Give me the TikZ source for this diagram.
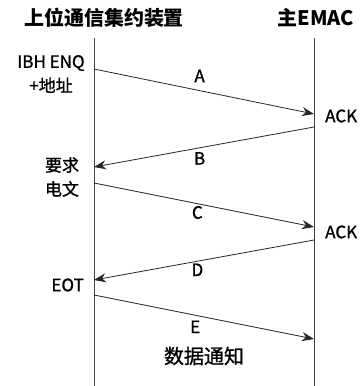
\documentclass[tikz,border=0pt]{standalone}
\usepackage{fontspec}
\setmainfont{Noto Sans CJK SC}
\newfontfamily\medfont[FakeBold=1.2]{Noto Sans CJK SC}
\usetikzlibrary{
  arrows.meta,
  positioning
}
\tikzset{
  >={Stealth[length=12pt,width=9pt]},
  lifeline/.style={draw=black!75, line width=0.7pt},
  msg/.style={->, draw=black!85, line width=0.8pt},
  head/.style={font=\fontsize{20}{22}\selectfont\bfseries, inner sep=0pt},
  tag/.style={font=\fontsize{17}{24}\selectfont\medfont, inner sep=0pt, align=center},
  letter/.style={font=\fontsize{17}{19}\selectfont\medfont, inner sep=0pt}
}

\begin{document}
\begin{tikzpicture}[x=1pt, y=-1pt]
  \useasboundingbox (0,0) rectangle (363,386);
  % heads
  \node[head] (dev) at (104,18) {上位通信集约装置};
  \node[head] (emac) at (316,18) {主EMAC};
  % lifelines
  \coordinate (devtop) at (94,38);
  \coordinate (devbot) at (94,386);
  \coordinate (emactop) at (314,38);
  \coordinate (emacbot) at (314,386);
  \draw[lifeline] (devtop) -- (devbot);
  \draw[lifeline] (emactop) -- (emacbot);
  % message ends
  \coordinate (l1) at (94,69);
  \coordinate (r1) at (314,114);
  \coordinate (r2) at (314,127);
  \coordinate (l2) at (94,167);
  \coordinate (l3) at (94,183);
  \coordinate (r3) at (314,227);
  \coordinate (r4) at (314,240);
  \coordinate (l4) at (94,280);
  \coordinate (l5) at (94,295);
  \coordinate (r5) at (314,339);
  % side texts
  \node[tag] (enq) at (51,74) {IBH ENQ\\+地址};
  \node[tag] (req) at (62,177) {要求\\电文};
  \node[tag, anchor=east] (eot) at (84,285) {EOT};
  \node[tag, anchor=west] (ack1) at (325,116) {ACK};
  \node[tag, anchor=west] (ack2) at (325,232) {ACK};
  % messages
  \draw[msg] (l1) -- node[letter, pos=0.48, above=8pt] (ma) {A} (r1);
  \draw[msg] (r2) -- node[letter, pos=0.52, below=4pt] (mb) {B} (l2);
  \draw[msg] (l3) -- node[letter, pos=0.47, below=2pt] (mc) {C} (r3);
  \draw[msg] (r4) -- node[letter, pos=0.53, below=2pt] (md) {D} (l4);
  \draw[msg] (l5) -- node[letter, pos=0.46, below=5pt] (me) {E} (r5);
  \node[tag, font=\fontsize{20}{22}\selectfont\medfont] (data) at (204,356) {数据通知};
\end{tikzpicture}
\end{document}
